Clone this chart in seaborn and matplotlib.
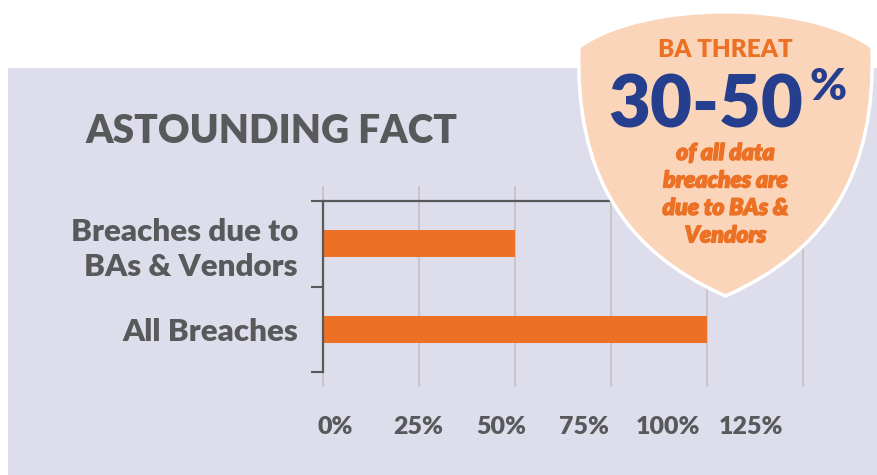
import numpy as np
import matplotlib
matplotlib.use("Agg")
import matplotlib.pyplot as plt
import matplotlib.patheffects as pe
import seaborn as sns
import pandas as pd
from matplotlib.path import Path
from matplotlib.patches import PathPatch, Rectangle

# data
categories = ["Breaches due to\nBAs & Vendors", "All Breaches"]
values = [50, 100]
pct_ticks = [0, 25, 50, 75, 100, 125]
tick_labels = ["0%", "25%", "50%", "75%", "100%", "125%"]

GRAY = "#58595B"
ORANGE = "#EC7125"
BLUE = "#253F8E"
LAVENDER = "#DEDDEC"
PEACH = "#FAD5BA"
GRID = "#C6C6CB"

W, H = 878, 475

sns.set_style("white")
plt.rcParams["font.family"] = ["Lato", "DejaVu Sans"]
plt.rcParams["font.weight"] = "heavy"

fig = plt.figure(figsize=(W / 100, H / 100), dpi=100, facecolor="white")

def px(x, y):
    return (x / W, 1 - y / H)

# lavender panel
fig.add_artist(Rectangle(px(8, H), 1, (H - 68) / H, transform=fig.transFigure,
                         facecolor=LAVENDER, edgecolor="none", zorder=0))

ax = fig.add_axes([323 / W, (H - 372) / H, (822 - 323) / W, (372 - 201) / H])
ax.set_facecolor("none")

df = pd.DataFrame({"category": categories, "value": values})
sns.barplot(data=df, x="value", y="category", orient="h", color=ORANGE,
            saturation=1, width=0.32, linewidth=0, ax=ax)

ax.set_xlim(0, 130)
ax.set_ylim(1.5, -0.5)
ax.set_xlabel("")
ax.set_ylabel("")

# major x ticks = gridlines; minor ticks carry the (offset) labels
ax.set_xticks(pct_ticks)
ax.set_xticklabels([])
label_pos = [3.1 + t * 0.867 for t in pct_ticks]
ax.set_xticks(label_pos, labels=tick_labels, minor=True, fontweight="heavy")
ax.grid(axis="x", which="major", color=GRID, lw=1.5)
ax.set_axisbelow(True)

ax.set_yticks([-0.5, 0.5, 1.5])
ax.set_yticklabels([])
ax.set_yticks([0, 1], labels=categories, minor=True, fontweight="heavy",
              linespacing=1.3)

for s in ["right", "bottom"]:
    ax.spines[s].set_visible(False)
for s in ["left", "top"]:
    ax.spines[s].set_color(GRAY)
    ax.spines[s].set_linewidth(1.6)

ax.tick_params(axis="x", which="major", bottom=True, top=True, direction="out",
               length=11, width=1.5, color=GRID)
ax.tick_params(axis="x", which="minor", bottom=True, top=False, length=0, pad=32,
               labelsize=18, labelcolor=GRAY)
ax.tick_params(axis="y", which="major", left=True, direction="out", length=9,
               width=1.5, color=GRAY)
ax.tick_params(axis="y", which="minor", left=True, length=0, pad=18,
               labelsize=22.5, labelcolor=GRAY)

for i, t in enumerate(ax.xaxis.get_major_ticks()):
    t.tick2line.set_color(GRAY)
    if i == 0:
        t.tick1line.set_color(GRAY)

# title
fig.text(86 / W, px(0, 143)[1], "ASTOUNDING FACT", fontsize=28, fontweight="heavy",
         color=GRAY, ha="left", va="baseline")

# shield
cx = 725.5
right = [(872, 47), (876, 170), (830, 250), (725.5, 296)]
left = [(2 * cx - x, y) for x, y in right]
verts = [px(*left[0]),
         px(645, 0), px(806, 0), px(*right[0]),
         px(*right[1]), px(*right[2]), px(*right[3]),
         px(*left[2]), px(*left[1]), px(*left[0]),
         px(*left[0])]
codes = [Path.MOVETO] + [Path.CURVE4] * 9 + [Path.CLOSEPOLY]
fig.add_artist(PathPatch(Path(verts, codes), transform=fig.transFigure,
                         facecolor=PEACH, edgecolor="white", lw=2.5, zorder=2.5))

fig.text(cx / W, px(0, 57)[1], "BA THREAT", fontsize=17.5, fontweight="heavy",
         color=ORANGE, ha="center", va="baseline", zorder=4)
fig.text(803 / W, px(0, 127)[1], "30-50", fontsize=52, fontweight="heavy",
         color=BLUE, ha="right", va="baseline", zorder=4)
fig.text(810 / W, px(0, 100)[1], "%", fontsize=32, fontweight="heavy",
         color=BLUE, ha="left", va="baseline", zorder=4)
fig.text(cx / W, px(0, 143)[1], "of all data\nbreaches are\ndue to BAs &\nVendors",
         fontsize=16.5, fontweight="heavy", fontstyle="italic", color=ORANGE,
         ha="center", va="top", linespacing=1.38, zorder=4,
         path_effects=[pe.withStroke(linewidth=1.0, foreground=ORANGE)])

fig.savefig("out.png", dpi=100, facecolor="white")
